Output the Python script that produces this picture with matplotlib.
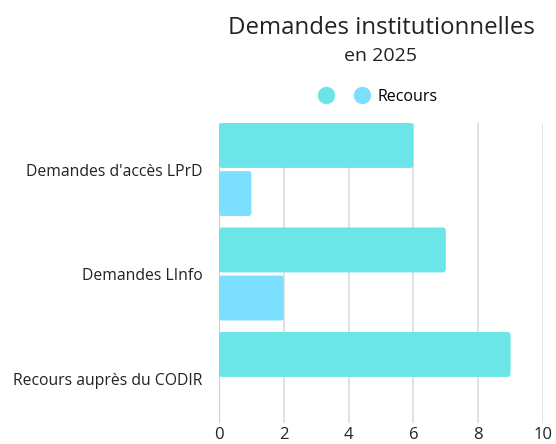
import matplotlib.pyplot as plt
from matplotlib.patches import FancyBboxPatch
import numpy as np

plt.rcParams['font.family'] = ['Open Sans', 'DejaVu Sans']

categories = ["Demandes d'accès LPrD", "Demandes LInfo", "Recours auprès du CODIR"]
demandes = [6, 7, 9]
recours = [1, 2, 0]
series_labels = ["", "Recours"]
colors = ["#6ce5e8", "#7ddfff"]
xticks = [0, 2, 4, 6, 8, 10]

fig = plt.figure(figsize=(5.56, 4.44), dpi=100)
ax = fig.add_axes([219 / 556, 1 - 423 / 444, (543 - 219) / 556, (423 - 123) / 444])

y = np.arange(len(categories))
h = 0.43
b1 = ax.barh(y - 0.23, demandes, height=h, color=colors[0], zorder=3)
b2 = ax.barh(y + 0.23, recours, height=h, color=colors[1], zorder=3)

# rounded corners
for bars in (b1, b2):
    for p in bars:
        if p.get_width() <= 0:
            continue
        fb = FancyBboxPatch((p.get_x(), p.get_y()), p.get_width(), p.get_height(),
                            boxstyle="round,pad=0,rounding_size=0.1", mutation_aspect=0.31,
                            facecolor=p.get_facecolor(), edgecolor="none", zorder=3)
        p.remove()
        ax.add_patch(fb)

top = -0.445
ax.set_xlim(0, 10)
ax.set_ylim(top + 300 / 104.5, top)
ax.set_xticks(xticks)
ax.set_yticks(y)
ax.set_yticklabels(categories, fontsize=11.3, color="#222222")
ax.tick_params(axis="x", labelsize=12, colors="#222222", length=0, pad=3)
ax.tick_params(axis="y", length=0, pad=12)
ax.grid(axis="x", color="#dddddd", linewidth=1.2, zorder=0)
for s in ax.spines.values():
    s.set_visible(False)
ax.axvline(0, color="#cccccc", linewidth=1.5, zorder=2)

fig.text(381 / 556, 1 - 28 / 444, "Demandes institutionnelles", ha="center", va="center",
         fontsize=17.3, color="#222222")
fig.text(381 / 556, 1 - 56 / 444, "en 2025", ha="center", va="center",
         fontsize=14, color="#222222")

handles = [plt.Line2D([], [], marker="o", linestyle="", markersize=11.5, color=c) for c in colors]
fig.legend(handles, series_labels, loc="center", bbox_to_anchor=(377 / 556, 1 - 97 / 444),
           ncol=2, frameon=False, fontsize=11.5, handletextpad=0.35, columnspacing=0.7,
           handlelength=1.2)

fig.savefig("out.png", dpi=100)
